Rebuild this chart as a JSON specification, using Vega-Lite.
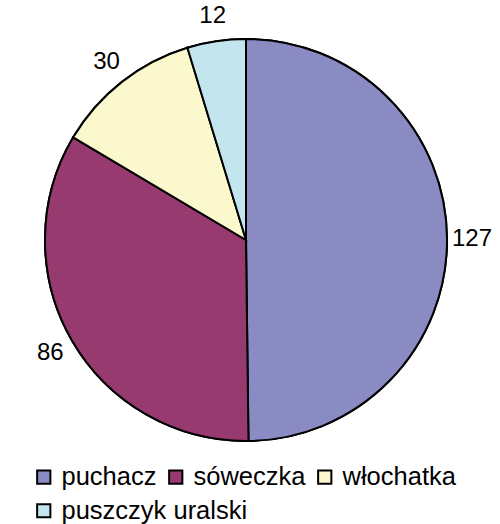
{
  "$schema": "https://vega.github.io/schema/vega-lite/v6.json",
  "width": 492,
  "height": 480,
  "autosize": "none",
  "padding": {"left": 0, "top": 0, "right": 8, "bottom": 44},
  "background": "white",
  "data": {"values": [
    {"gatunek": "puchacz", "liczba": 127},
    {"gatunek": "sóweczka", "liczba": 86},
    {"gatunek": "włochatka", "liczba": 30},
    {"gatunek": "puszczyk uralski", "liczba": 12}
  ]},
  "encoding": {
    "theta": {"field": "liczba", "type": "quantitative", "stack": true},
    "order": {"field": "liczba", "type": "quantitative", "sort": "descending"}
  },
  "resolve": {
    "scale": {"color": "independent", "fill": "independent"},
    "legend": {"color": "independent", "fill": "independent"}
  },
  "layer": [
    {
      "mark": {"type": "arc", "outerRadius": 201, "stroke": "black", "strokeWidth": 2},
      "encoding": {
        "fill": {
          "field": "gatunek", "type": "nominal",
          "scale": {
            "domain": ["puchacz", "sóweczka", "włochatka", "puszczyk uralski"],
            "range": ["#8B8BC3", "#963A6F", "#FAF8CC", "#C3E6EE"]
          },
          "legend": {
            "title": null,
            "orient": "none",
            "legendX": 31,
            "legendY": 498,
            "direction": "horizontal",
            "values": ["puszczyk uralski"],
            "symbolType": "square",
            "symbolSize": 175,
            "symbolStrokeColor": "black",
            "symbolStrokeWidth": 2,
            "symbolOpacity": 1,
            "labelFontSize": 25.5,
            "labelFont": "Liberation Sans",
            "labelColor": "black",
            "labelOffset": 5,
            "labelLimit": 300,
            "padding": 0
          }
        }
      }
    },
    {
      "mark": {"type": "arc", "outerRadius": 201, "stroke": "black", "strokeWidth": 2},
      "encoding": {
        "color": {
          "field": "gatunek", "type": "nominal",
          "scale": {
            "domain": ["puchacz", "sóweczka", "włochatka", "puszczyk uralski"],
            "range": ["#8B8BC3", "#963A6F", "#FAF8CC", "#C3E6EE"]
          },
          "legend": {
            "title": null,
            "orient": "none",
            "legendX": 31,
            "legendY": 464,
            "direction": "horizontal",
            "values": ["puchacz", "sóweczka", "włochatka"],
            "symbolType": "square",
            "symbolSize": 175,
            "symbolStrokeColor": "black",
            "symbolStrokeWidth": 2,
            "symbolOpacity": 1,
            "labelFontSize": 25.5,
            "labelFont": "Liberation Sans",
            "labelColor": "black",
            "labelOffset": 5,
            "labelLimit": 300,
            "columnPadding": 6,
            "padding": 0
          }
        }
      }
    },
    {
      "mark": {"type": "text", "radius": 226, "fontSize": 24, "font": "Liberation Sans", "fill": "black"},
      "encoding": {
        "text": {"field": "liczba", "type": "quantitative"}
      }
    }
  ]
}
